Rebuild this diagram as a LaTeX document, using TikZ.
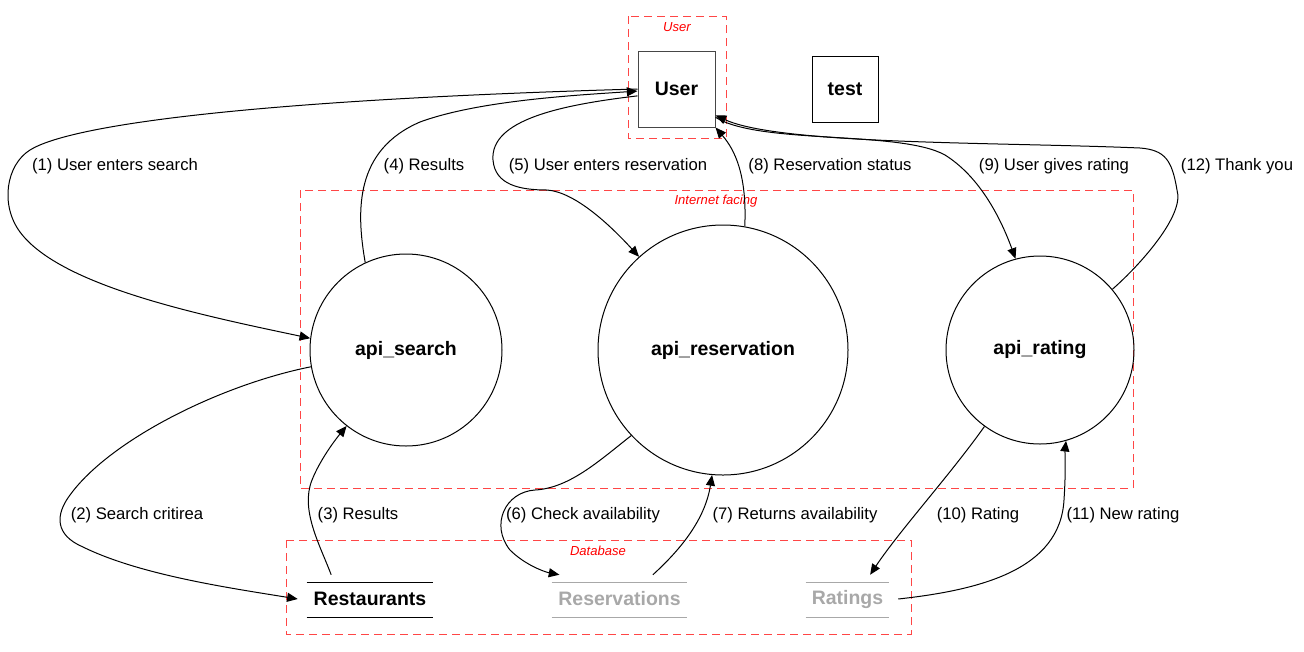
\documentclass[tikz,border=0pt]{standalone}
\usepackage{fontspec}
\setmainfont{Liberation Sans}
\usetikzlibrary{arrows.meta}
\definecolor{clusterred}{RGB}{255,70,70}
\definecolor{dbgray}{RGB}{168,168,168}
\definecolor{boxgray}{RGB}{70,70,70}

\begin{document}
\begin{tikzpicture}[x=0.75pt,y=-0.75pt,
    cluster/.style={draw=clusterred,dash pattern=on 6pt off 3.75pt,line width=0.75pt},
    clabel/.style={text=red,font=\fontsize{9.8}{11}\selectfont\itshape},
    bold/.style={font=\fontsize{14.6}{16}\selectfont\bfseries},
    proc/.style={circle,draw,line width=0.75pt,inner sep=0pt,bold},
    ent/.style={rectangle,draw,line width=0.75pt,inner sep=0pt,bold},
    store/.style={rectangle,inner sep=0pt,minimum height=36pt,bold},
    elabel/.style={font=\fontsize{12.5}{14}\selectfont},
    flow/.style={-{Triangle[length=8pt,width=6.8pt]},line width=0.75pt}]
    \useasboundingbox (0,0) rectangle (1304,651);

    % clusters
    \draw[cluster] (628,16) rectangle (726,138);
    \node[clabel] (cuser) at (677,27) {User};
    \draw[cluster] (300,190) rectangle (1133,488);
    \node[clabel] (cnet) at (716,201) {Internet facing};
    \draw[cluster] (286,540) rectangle (911,634);
    \node[clabel] (cdb) at (598,551) {Database};

    % entities and processes
    \node[ent,draw=boxgray,minimum width=57.75pt,minimum height=57pt] (user) at (676.5,89) {User};
    \node[ent,minimum size=49.5pt] (test) at (845,89) {test};
    \node[proc,minimum size=144pt] (search) at (406,350) {api\_search};
    \node[proc,minimum size=187.5pt] (res) at (723,350) {api\_reservation};
    \node[proc,minimum size=141pt] (rat) at (1040,350) {api\_rating};

    % data stores
    \node[store,minimum width=108pt] (rest) at (370,599) {Restaurants};
    \node[store,minimum width=114.75pt,text=dbgray] (resv) at (619.5,599) {Reservations};
    \node[store,minimum width=75.75pt,text=dbgray] (rats) at (847.5,599) {Ratings};
    \foreach \n/\c in {rest/black,resv/dbgray,rats/dbgray} {
        \draw[\c,line width=0.75pt] ([shift={(9,8)}]\n.north west) -- ([shift={(-9,8)}]\n.north east);
        \draw[\c,line width=0.75pt] ([shift={(9,-6)}]\n.south west) -- ([shift={(-9,-6)}]\n.south east);
    }

    % flows
    \draw[flow] (user.west) .. controls (250,100) and (70,125) .. (30,150)
        .. controls (6,165) and (0,205) .. (20,232)
        .. controls (60,286) and (200,315) .. (search.173);
    \draw[flow] (search.190) .. controls (220,385) and (110,440) .. (70,495)
        .. controls (55,515) and (55,535) .. (83,547)
        .. controls (140,575) and (230,588) .. (rest.west);
    \draw[flow] (rest.148) .. controls (320,545) and (300,510) .. (312,480)
        .. controls (320,460) and (335,440) .. (search.232);
    \draw[flow] (search.115) .. controls (356,210) and (355,150) .. (420,122)
        .. controls (480,100) and (580,95) .. (user.183);
    \draw[flow] (user.190) .. controls (560,105) and (490,120) .. (493,160)
        .. controls (495,185) and (520,190) .. (547,190)
        .. controls (575,192) and (610,225) .. (res.132);
    \draw[flow] (res.223) .. controls (600,460) and (570,488) .. (535,490)
        .. controls (505,492) and (490,525) .. (510,550)
        .. controls (525,565) and (545,572) .. (resv.158);
    \draw[flow] (resv.36) .. controls (680,550) and (705,520) .. (res.265);
    \draw[flow] (res.80) .. controls (747,175) and (735,150) .. (user.south east);
    \draw[flow] (user.-36) .. controls (760,145) and (900,130) .. (945,155)
        .. controls (985,180) and (1005,230) .. (rat.105);
    \draw[flow] (rat.234) .. controls (950,475) and (900,530) .. (rats.47);
    \draw[flow] (rats.east) .. controls (980,590) and (1060,570) .. (1064,500)
        .. controls (1066,470) and (1065,450) .. (rat.286);
    \draw[flow] (rat.40) .. controls (1140,265) and (1185,215) .. (1177,190)
        .. controls (1172,160) and (1165,150) .. (1140,148)
        .. controls (1000,142) and (780,145) .. (user.-34);

    % flow labels
    \node[elabel] (l1) at (115,166) {(1) User enters search};
    \node[elabel] (l4) at (424,166) {(4) Results};
    \node[elabel] (l5) at (608,166) {(5) User enters reservation};
    \node[elabel] (l8) at (830,166) {(8) Reservation status};
    \node[elabel] (l9) at (1054,166) {(9) User gives rating};
    \node[elabel] (l12) at (1237,166) {(12) Thank you};
    \node[elabel] (l2) at (137,515) {(2) Search critirea};
    \node[elabel] (l3) at (358,515) {(3) Results};
    \node[elabel] (l6) at (583,515) {(6) Check availability};
    \node[elabel] (l7) at (795,515) {(7) Returns availability};
    \node[elabel] (l10) at (978,515) {(10) Rating};
    \node[elabel] (l11) at (1123,515) {(11) New rating};
\end{tikzpicture}
\end{document}
